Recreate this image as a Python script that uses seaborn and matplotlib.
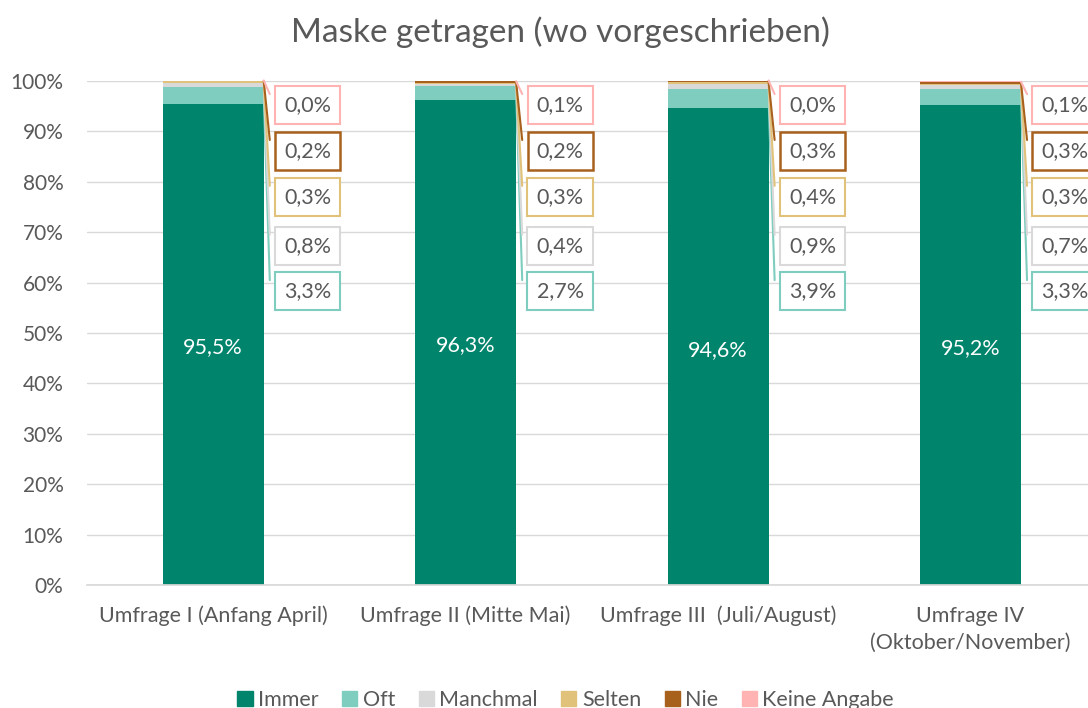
import numpy as np
import pandas as pd
import matplotlib
matplotlib.use("Agg")
import matplotlib.pyplot as plt
import seaborn as sns
from matplotlib.patches import Patch

categories = ["Umfrage I (Anfang April)", "Umfrage II (Mitte Mai)",
              "Umfrage III  (Juli/August)", "Umfrage IV\n(Oktober/November)"]
series = ["Immer", "Oft", "Manchmal", "Selten", "Nie", "Keine Angabe"]
immer = [95.5, 96.3, 94.6, 95.2]
oft = [3.3, 2.7, 3.9, 3.3]
manchmal = [0.8, 0.4, 0.9, 0.7]
selten = [0.3, 0.3, 0.4, 0.3]
nie = [0.2, 0.2, 0.3, 0.3]
keine_angabe = [0.0, 0.1, 0.0, 0.1]
colors = ["#00846c", "#7fcdbe", "#d9d9d9", "#e0c27a", "#a8611d", "#ffb3b3"]

values = [immer, oft, manchmal, selten, nie, keine_angabe]
df = pd.DataFrame({s: v for s, v in zip(series, values)}, index=categories)
cum = df.cumsum(axis=1)

sns.set_theme(style="whitegrid")
plt.rcParams["font.family"] = ["Lato", "DejaVu Sans"]
text_col = "#595959"
fs = 15.5

fig = plt.figure(figsize=(10.88, 7.08), dpi=100)
ax = fig.add_axes([0.08, 0.1737, 0.928, 0.7119])

bar_w = 0.4
# draw cumulative totals from the top series down so lower series sit on top
for s, c in zip(series[::-1], colors[::-1]):
    d = pd.DataFrame({"cat": categories, "val": cum[s].values})
    sns.barplot(data=d, x="cat", y="val", color=c, width=bar_w,
                saturation=1, linewidth=0, ax=ax, order=categories)

ax.set_xlim(-0.5, 3.5)
ax.set_ylim(0, 100)
ax.set_yticks(np.arange(0, 101, 10))
ax.set_yticklabels([f"{t}%" for t in range(0, 101, 10)])
ax.set_xlabel("")
ax.set_ylabel("")
ax.grid(axis="y", color="#d9d9d9", lw=1)
ax.grid(axis="x", visible=False)
for sp in ["top", "right", "left"]:
    ax.spines[sp].set_visible(False)
ax.spines["bottom"].set_color("#d9d9d9")
ax.tick_params(axis="y", length=0, pad=17, labelsize=15, labelcolor=text_col)
ax.tick_params(axis="x", length=0, pad=15, labelsize=fs, labelcolor=text_col)
for lbl in ax.get_xticklabels():
    lbl.set_linespacing(1.45)

# labels: Immer inside the bar, the rest in boxes to the right
box_y = [None, 58.3, 67.3, 77.0, 86.1, 95.2]
for i in range(len(categories)):
    ax.text(i, immer[i] / 2 - 0.6, f"{immer[i]:.1f}%".replace(".", ","),
            ha="center", va="center", color="white", fontsize=fs)
    right = i + bar_w / 2
    for k in range(1, len(series)):
        val = values[k][i]
        mid = cum[series[k]].iloc[i] - val / 2
        tx = right + 0.174
        ax.plot([right, right + 0.024], [mid, box_y[k] + 2.2],
                color=colors[k], lw=1.5, clip_on=False, zorder=4)
        ax.text(tx, box_y[k], f"{val:.1f}%".replace(".", ","),
                ha="center", va="center", color=text_col, fontsize=fs,
                zorder=5, clip_on=False,
                bbox=dict(boxstyle="square,pad=0.42", fc="white",
                          ec=colors[k], lw=1.5 if k != 4 else 1.8))

fig.text(0.515, 0.955, "Maske getragen (wo vorgeschrieben)", ha="center",
         va="center", fontsize=24, color=text_col)

handles = [Patch(color=c, label=s) for s, c in zip(series, colors)]
fig.legend(handles=handles, loc="lower center", bbox_to_anchor=(0.52, -0.03),
           ncol=6, frameon=False, fontsize=fs, labelcolor=text_col,
           handlelength=0.7, handleheight=0.7, handletextpad=0.25,
           columnspacing=1.1)

fig.savefig("out.png", dpi=100)
